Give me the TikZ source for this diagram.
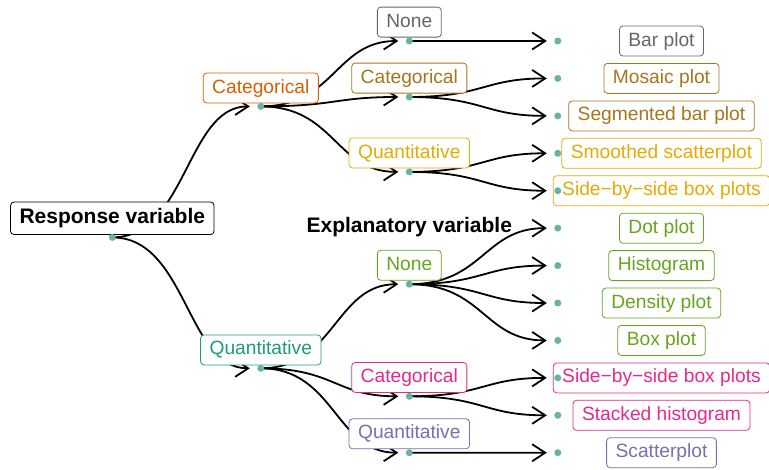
\documentclass[tikz,border=0pt]{standalone}
\usepackage{fontspec}
\setmainfont{Liberation Sans}
\usetikzlibrary{arrows.meta,calc}
\definecolor{cteal}{HTML}{1B9E77}
\definecolor{corange}{HTML}{D95F02}
\definecolor{cpurple}{HTML}{7570B3}
\definecolor{cpink}{HTML}{E7298A}
\definecolor{cgreen}{HTML}{66A61E}
\definecolor{cyellow}{HTML}{E6AB02}
\definecolor{cbrown}{HTML}{A6761D}
\definecolor{cgrey}{HTML}{666666}
\definecolor{cdot}{HTML}{69B3A2}
\newcommand\diagedge[2]{\draw[edgeline] (#1) .. controls ($(#1)+(74,0)$) and ($(#2)+(-74,0)$) .. (#2);}
\begin{document}
\begin{tikzpicture}[x=1pt,y=-1pt,
  dotnode/.style={circle,fill=cdot,inner sep=0pt,minimum size=7pt},
  lab/.style={draw=#1,text=#1,fill=white,rounded corners=3.5pt,line width=0.8pt,
    font=\fontsize{19.2}{21}\selectfont,text height=14pt,text depth=4pt,
    inner xsep=9pt,inner ysep=6pt},
  boldlab/.style={font=\fontsize{21}{23}\selectfont\bfseries},
  edgeline/.style={line width=1.8pt,-{Straight Barb[length=13pt,width=17pt]},shorten >=11pt}
]
\useasboundingbox (0,0) rectangle (769,469);
% positions
\coordinate (r) at (112.3,237.4);
\coordinate (c1) at (260.8,106.4);
\coordinate (q1) at (260.8,368.3);
\coordinate (n2) at (409.3,41);
\coordinate (c2) at (409.3,97);
\coordinate (q2) at (409.3,171.9);
\coordinate (n3) at (409.3,284.2);
\coordinate (c3) at (409.3,396.3);
\coordinate (q3) at (409.3,452.7);
\foreach \i in {0,...,11}{\coordinate (L\i) at (557.8,{41+37.43*\i});}
% edges
\diagedge{r}{c1}
\diagedge{r}{q1}
\diagedge{c1}{n2}
\diagedge{c1}{c2}
\diagedge{c1}{q2}
\diagedge{q1}{n3}
\diagedge{q1}{c3}
\diagedge{q1}{q3}
\diagedge{n2}{L0}
\diagedge{c2}{L1}
\diagedge{c2}{L2}
\diagedge{q2}{L3}
\diagedge{q2}{L4}
\diagedge{n3}{L5}
\diagedge{n3}{L6}
\diagedge{n3}{L7}
\diagedge{n3}{L8}
\diagedge{c3}{L9}
\diagedge{c3}{L10}
\diagedge{q3}{L11}
% internal labels
\node[draw=black,fill=white,rounded corners=3.5pt,line width=0.8pt,boldlab,
  text height=15pt,text depth=4.5pt,inner xsep=9pt,inner ysep=6.5pt,anchor=south]
  (rl) at ($(r)+(0,-2.5)$) {Response variable};
\node[lab=corange,anchor=south] (c1l) at ($(c1)+(0,-3)$) {Categorical};
\node[lab=cteal,anchor=south] (q1l) at ($(q1)+(0,-3)$) {Quantitative};
\node[lab=cgrey,anchor=south] (n2l) at ($(n2)+(0,-3.5)$) {None};
\node[lab=cbrown,anchor=south] (c2l) at ($(c2)+(0,-3.5)$) {Categorical};
\node[lab=cyellow,anchor=south] (q2l) at ($(q2)+(0,-3.5)$) {Quantitative};
\node[lab=cgreen,anchor=south] (n3l) at ($(n3)+(0,-3.5)$) {None};
\node[lab=cpink,anchor=south] (c3l) at ($(c3)+(0,-3.5)$) {Categorical};
\node[lab=cpurple,anchor=south] (q3l) at ($(q3)+(0,-3.5)$) {Quantitative};
\node[boldlab,anchor=base,inner sep=0pt] (ev) at (409.3,232) {Explanatory variable};
% leaf labels
\node[lab=cgrey] (l0) at (661.5,41) {Bar plot};
\node[lab=cbrown] (l1) at (661.5,78.4) {Mosaic plot};
\node[lab=cbrown] (l2) at (661.5,115.9) {Segmented bar plot};
\node[lab=cyellow] (l3) at (661.5,153.3) {Smoothed scatterplot};
\node[lab=cyellow] (l4) at (661.5,190.7) {Side−by−side box plots};
\node[lab=cgreen] (l5) at (661.5,228.2) {Dot plot};
\node[lab=cgreen] (l6) at (661.5,265.6) {Histogram};
\node[lab=cgreen] (l7) at (661.5,303) {Density plot};
\node[lab=cgreen] (l8) at (661.5,340.4) {Box plot};
\node[lab=cpink] (l9) at (661.5,377.9) {Side−by−side box plots};
\node[lab=cpink] (l10) at (661.5,415.3) {Stacked histogram};
\node[lab=cpurple] (l11) at (661.5,452.7) {Scatterplot};
% dots
\foreach \p in {r,c1,q1,n2,c2,q2,n3,c3,q3,L0,L1,L2,L3,L4,L5,L6,L7,L8,L9,L10,L11}{
  \node[dotnode] (d\p) at (\p) {};}
\end{tikzpicture}
\end{document}
